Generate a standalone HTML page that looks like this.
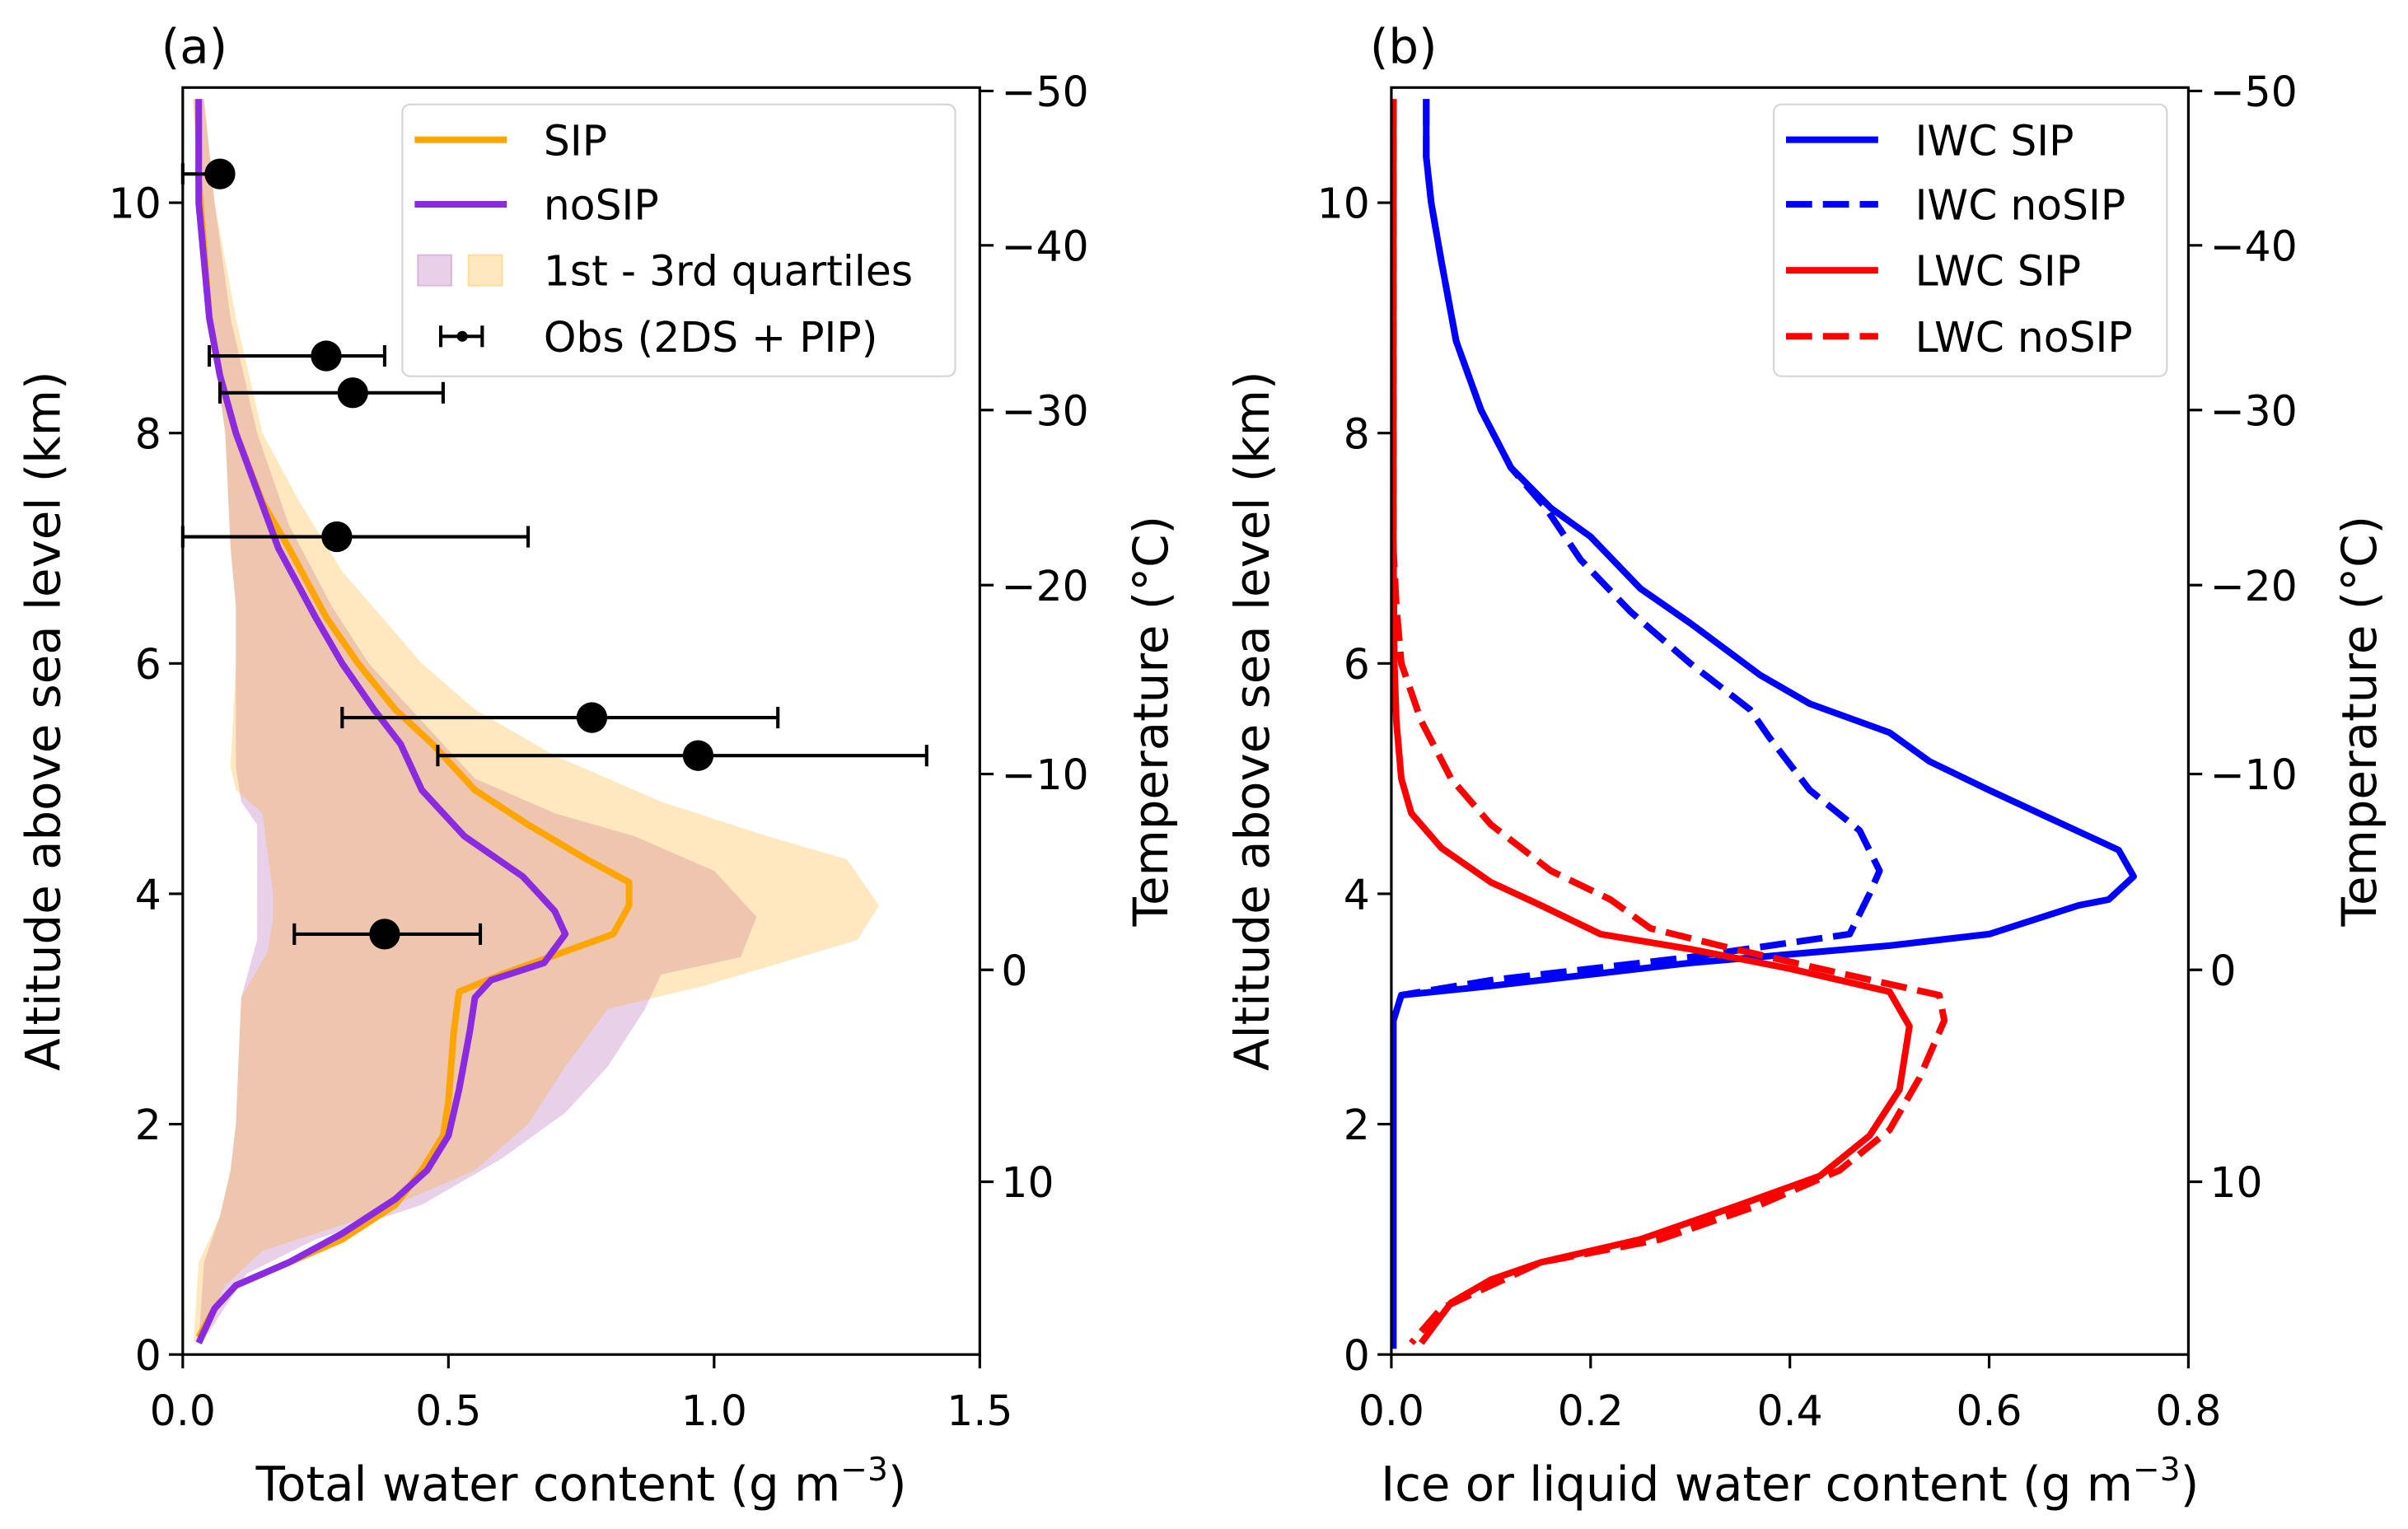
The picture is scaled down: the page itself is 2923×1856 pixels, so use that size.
<!DOCTYPE html>
<html><head><meta charset="utf-8"><style>
html,body{margin:0;padding:0;background:#fff}
svg{display:block}
text{font-family:"DejaVu Sans","Liberation Sans",sans-serif;fill:#000}
</style></head><body>
<svg id="fig" xmlns="http://www.w3.org/2000/svg" width="2923" height="1856" viewBox="0 0 1568 995.6">
<rect width="1568" height="995.6" fill="#fff"/>
<g id="pa"></g>
<g id="pb"></g>
</svg>
<script>
// ---- Panel (a) data ----
const sipX=[0.03,0.03,0.05,0.07,0.1,0.15,0.2,0.27,0.33,0.4,0.47,0.55,0.65,0.76,0.84,0.84,0.81,0.6,0.52,0.51,0.5,0.49,0.45,0.4,0.3,0.2,0.1,0.06,0.03];
const sipY=[10.9,10.2,9,8.5,8,7.4,7,6.4,6,5.6,5.3,4.9,4.6,4.3,4.1,3.9,3.65,3.3,3.15,2.8,2.2,1.9,1.6,1.3,1.0,0.8,0.6,0.4,0.15];
const nosipX=[0.03,0.03,0.05,0.07,0.1,0.14,0.18,0.25,0.3,0.36,0.41,0.45,0.53,0.64,0.7,0.72,0.68,0.58,0.55,0.54,0.52,0.5,0.46,0.4,0.3,0.2,0.1,0.06,0.03];
const nosipY=[10.9,10,9,8.5,8,7.5,7,6.4,6,5.6,5.3,4.9,4.5,4.15,3.85,3.65,3.4,3.25,3.1,2.8,2.3,1.9,1.6,1.35,1.05,0.8,0.6,0.4,0.1];
const qSipLoX=[0.02,0.03,0.05,0.08,0.09,0.1,0.1,0.09,0.1,0.15,0.17,0.17,0.16,0.11,0.1,0.09,0.07,0.03,0.02];
const qSipLoY=[10.9,10,9,8,7,6.5,6,5.1,4.9,4.7,4,3.8,3.5,3.1,2,1.6,1.2,0.8,0.1];
const qSipHiX=[0.04,0.06,0.1,0.15,0.22,0.3,0.45,0.55,0.7,0.9,1.1,1.25,1.31,1.27,0.98,0.8,0.72,0.65,0.55,0.35,0.15,0.08,0.04];
const qSipHiY=[10.9,10,9,8,7.4,6.8,6,5.6,5.2,4.8,4.5,4.3,3.9,3.6,3.2,3,2.5,2,1.6,1.2,0.9,0.6,0.2];
const qNoLoX=[0.02,0.03,0.05,0.08,0.09,0.1,0.1,0.1,0.11,0.14,0.14,0.14,0.11,0.1,0.09,0.07,0.04,0.03];
const qNoLoY=[10.9,10,9,8,7,6.5,6,5.1,4.8,4.6,3.9,3.6,3.1,2,1.6,1.2,0.8,0.1];
const qNoHiX=[0.04,0.06,0.09,0.14,0.2,0.28,0.35,0.45,0.55,0.7,0.85,1.0,1.08,1.05,0.9,0.87,0.8,0.72,0.6,0.45,0.25,0.12,0.05];
const qNoHiY=[10.9,10,9,8,7.2,6.5,6,5.5,5,4.7,4.5,4.2,3.8,3.45,3.3,3.0,2.5,2.1,1.7,1.3,1.0,0.7,0.2];
const obsX=[0.07,0.27,0.32,0.29,0.77,0.97,0.38];
const obsY=[10.25,8.67,8.35,7.1,5.53,5.2,3.65];
const obsLo=[0.0,0.05,0.07,0.0,0.3,0.48,0.21];
const obsHi=[0.08,0.38,0.49,0.65,1.12,1.4,0.56];
const xTicksA=[0,0.5,1.0,1.5];
const xTickLabelsA=["0.0","0.5","1.0","1.5"];
// ---- Panel (b) data ----
const iwcSipX=[0.035,0.035,0.04,0.05,0.065,0.09,0.12,0.16,0.2,0.25,0.3,0.37,0.42,0.5,0.54,0.6,0.73,0.745,0.72,0.69,0.6,0.5,0.3,0.1,0.01,0.002,0.002];
const iwcSipY=[10.9,10.4,10,9.5,8.8,8.2,7.7,7.35,7.1,6.65,6.35,5.9,5.65,5.4,5.15,4.9,4.38,4.15,3.95,3.9,3.65,3.55,3.4,3.2,3.12,2.9,0.05];
const iwcNoX=[0.035,0.035,0.04,0.05,0.065,0.09,0.12,0.155,0.19,0.24,0.3,0.36,0.38,0.42,0.47,0.49,0.48,0.46,0.3,0.1,0.01,0.002];
const iwcNoY=[10.9,10.4,10,9.5,8.8,8.2,7.7,7.35,6.9,6.45,6,5.6,5.35,4.9,4.55,4.2,4.0,3.65,3.45,3.25,3.12,2.9];
const lwcSipX=[0.002,0.002,0.003,0.005,0.01,0.02,0.05,0.1,0.15,0.21,0.3,0.4,0.5,0.52,0.51,0.48,0.43,0.35,0.25,0.15,0.1,0.06,0.03];
const lwcSipY=[10.9,7,6,5.5,5.0,4.7,4.4,4.1,3.9,3.65,3.52,3.35,3.15,2.85,2.3,1.9,1.55,1.3,1.0,0.8,0.65,0.45,0.1];
const lwcNoX=[0.002,0.002,0.005,0.01,0.03,0.06,0.1,0.16,0.22,0.26,0.33,0.43,0.55,0.555,0.53,0.5,0.45,0.37,0.27,0.15,0.1,0.05,0.02];
const lwcNoY=[10.9,7,6.5,6.0,5.5,5.0,4.6,4.2,3.95,3.7,3.55,3.35,3.12,2.9,2.4,1.95,1.6,1.3,1.0,0.8,0.6,0.4,0.1];
const xTicksB=[0,0.2,0.4,0.6,0.8];
const xTickLabelsB=["0.0","0.2","0.4","0.6","0.8"];
// ---- shared axes ----
const yTicks=[0,2,4,6,8,10];
const tempLabels=["\u221250","\u221240","\u221230","\u221220","\u221210","0","10"];
const tempAlt=[10.97,9.63,8.2,6.68,5.04,3.34,1.5];

const NS="http://www.w3.org/2000/svg";
const TOP=57,BOT=882,YMAX=11;
const LW=4.3;
function yS(v){return BOT-(v/YMAX)*(BOT-TOP);}
function mk(parent,tag,attrs,txt){const e=document.createElementNS(NS,tag);for(const k in attrs)e.setAttribute(k,attrs[k]);if(txt!==undefined)e.textContent=txt;parent.appendChild(e);return e;}
function pts(xs,ys,xS){return xs.map((x,i)=>xS(x).toFixed(2)+","+yS(ys[i]).toFixed(2)).join(" ");}
function band(lx,ly,hx,hy,xS){return pts(lx,ly,xS)+" "+pts(hx.slice().reverse(),hy.slice().reverse(),xS);}

function axes(g,L,R,xTicks,xLabs,xS,xTitle,ylabel,tag){
  yTicks.forEach(v=>{const y=yS(v);
    const t=mk(g,"line",{x1:L-9,x2:L,y1:y,y2:y,stroke:"#000","stroke-width":1.7});
    
    const l=mk(g,"text",{x:L-14,y:y+10,"font-size":27,"text-anchor":"end"},String(v));
    });
  xTicks.forEach((v,i)=>{const x=xS(v);
    const t=mk(g,"line",{x1:x,x2:x,y1:BOT,y2:BOT+9,stroke:"#000","stroke-width":1.7});
    
    const l=mk(g,"text",{x:x,y:BOT+46,"font-size":27,"text-anchor":"middle"},xLabs[i]);
    });
  tempAlt.forEach((a,i)=>{const y=yS(a);
    const t=mk(g,"line",{x1:R,x2:R+9,y1:y,y2:y,stroke:"#000","stroke-width":1.7});
    
    const l=mk(g,"text",{x:R+14,y:y+10,"font-size":27,"text-anchor":"start"},tempLabels[i]);
    });
  const fr=mk(g,"rect",{x:L,y:TOP,width:R-L,height:BOT-TOP,fill:"none",stroke:"#000","stroke-width":1.7});
  
  const xt=mk(g,"text",{x:(L+R)/2,y:BOT+95,"font-size":31,"text-anchor":"middle"});
  
  xt.appendChild(document.createTextNode(xTitle+" (g m"));
  mk(xt,"tspan",{dy:-13,"font-size":21},"\u22123");
  mk(xt,"tspan",{dy:13},")");
  const yt=mk(g,"text",{transform:`translate(${L-80},${(TOP+BOT)/2}) rotate(-90)`,"font-size":31,"text-anchor":"middle"},"Altitude above sea level (km)");
  
  const tt=mk(g,"text",{transform:`translate(${R+122},${(TOP+BOT)/2}) rotate(-90)`,"font-size":31,"text-anchor":"middle"},"Temperature (\u00b0C)");
  
  const pl=mk(g,"text",{x:L-14,y:41,"font-size":31},tag);
  
}

// Panel a
(function(){
const g=document.getElementById("pa");const L=119,R=638;
const xS=v=>L+v/1.5*(R-L);
const cp=mk(g,"clipPath",{id:"ca"});mk(cp,"rect",{x:L,y:TOP,width:R-L,height:BOT-TOP});
const d=mk(g,"g",{"clip-path":"url(#ca)"});
let e=mk(d,"polygon",{points:band(qNoLoX,qNoLoY,qNoHiX,qNoHiY,xS),fill:"#800080","fill-opacity":0.18});

e=mk(d,"polygon",{points:band(qSipLoX,qSipLoY,qSipHiX,qSipHiY,xS),fill:"#ffa500","fill-opacity":0.25});

e=mk(d,"polyline",{points:pts(sipX,sipY,xS),fill:"none",stroke:"#ffa500","stroke-width":LW,"stroke-linejoin":"round"});

e=mk(d,"polyline",{points:pts(nosipX,nosipY,xS),fill:"none",stroke:"#8a2be2","stroke-width":LW,"stroke-linejoin":"round"});

obsX.forEach((v,i)=>{const y=yS(obsY[i]);const x1=xS(obsLo[i]),x2=xS(obsHi[i]);
  const og=mk(g,"g",{});
  mk(og,"line",{x1:x1,x2:x2,y1:y,y2:y,stroke:"#000","stroke-width":2.2});
  mk(og,"line",{x1:x1,x2:x1,y1:y-7,y2:y+7,stroke:"#000","stroke-width":2.2});
  mk(og,"line",{x1:x2,x2:x2,y1:y-7,y2:y+7,stroke:"#000","stroke-width":2.2});
  mk(og,"circle",{cx:xS(v),cy:y,r:10,fill:"#000"});});
axes(g,L,R,xTicksA,xTickLabelsA,xS,"Total water content",null,"(a)");
const lg=mk(g,"g",{});
mk(lg,"rect",{x:262,y:68,width:360,height:177,rx:5,fill:"#fff","fill-opacity":0.8,stroke:"#d6d6d6","stroke-width":1.2});
const ent=[["SIP",91],["noSIP",133],["1st - 3rd quartiles",176],["Obs (2DS + PIP)",219]];
ent.forEach((t,i)=>{const l=mk(lg,"text",{x:354,y:t[1]+10,"font-size":27},t[0]);});
mk(lg,"line",{x1:270,x2:330,y1:91,y2:91,stroke:"#ffa500","stroke-width":LW});
mk(lg,"line",{x1:270,x2:330,y1:133,y2:133,stroke:"#8a2be2","stroke-width":LW});
mk(lg,"rect",{x:272,y:166,width:22,height:20,fill:"#800080","fill-opacity":0.18,stroke:"#800080","stroke-opacity":0.2});
mk(lg,"rect",{x:305,y:166,width:22,height:20,fill:"#ffa500","fill-opacity":0.25,stroke:"#ffa500","stroke-opacity":0.3});
mk(lg,"line",{x1:287,x2:314,y1:219,y2:219,stroke:"#000","stroke-width":2.2});
mk(lg,"line",{x1:287,x2:287,y1:212,y2:226,stroke:"#000","stroke-width":2.2});
mk(lg,"line",{x1:314,x2:314,y1:212,y2:226,stroke:"#000","stroke-width":2.2});
mk(lg,"circle",{cx:301,cy:219,r:3.5,fill:"#000"});
})();

// Panel b
(function(){
const g=document.getElementById("pb");const L=906,R=1425;
const xS=v=>L+v/0.8*(R-L);
const cp=mk(g,"clipPath",{id:"cb"});mk(cp,"rect",{x:L,y:TOP,width:R-L,height:BOT-TOP});
const d=mk(g,"g",{"clip-path":"url(#cb)"});
const series=[[iwcSipX,iwcSipY,"#0000ff",null,"iwc-sip-line"],[iwcNoX,iwcNoY,"#0000ff","17 7","iwc-nosip-line"],[lwcSipX,lwcSipY,"#ff0000",null,"lwc-sip-line"],[lwcNoX,lwcNoY,"#ff0000","17 7","lwc-nosip-line"]];
series.forEach(s=>{const a={points:pts(s[0],s[1],xS),fill:"none",stroke:s[2],"stroke-width":LW,"stroke-linejoin":"round"};if(s[3])a["stroke-dasharray"]=s[3];
  const e=mk(d,"polyline",a);});
axes(g,L,R,xTicksB,xTickLabelsB,xS,"Ice or liquid water content",null,"(b)");
const lg=mk(g,"g",{});
mk(lg,"rect",{x:1155,y:68,width:256,height:177,rx:5,fill:"#fff","fill-opacity":0.8,stroke:"#d6d6d6","stroke-width":1.2});
const ent=[["IWC SIP",91,"#0000ff",null],["IWC noSIP",133,"#0000ff","17 7"],["LWC SIP",176,"#ff0000",null],["LWC noSIP",219,"#ff0000","17 7"]];
ent.forEach(t=>{const a={x1:1163,x2:1223,y1:t[1],y2:t[1],stroke:t[2],"stroke-width":LW};if(t[3])a["stroke-dasharray"]=t[3];mk(lg,"line",a);
  const l=mk(lg,"text",{x:1247,y:t[1]+10,"font-size":27},t[0]);});
})();
</script>
</body></html>
